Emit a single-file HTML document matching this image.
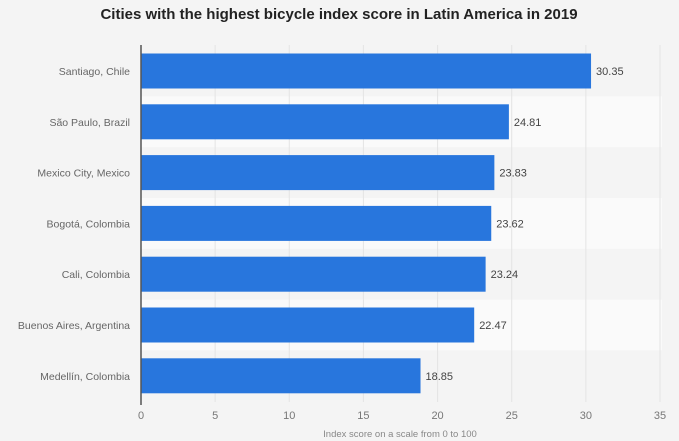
<!DOCTYPE html>
<html><head><meta charset="utf-8"><style>
body{margin:0;background:#f4f4f4;font-family:"Liberation Sans",sans-serif;}
svg{display:block}
</style></head><body>
<svg id="chart" width="679" height="441" xmlns="http://www.w3.org/2000/svg">
<rect width="679" height="441" fill="#f4f4f4"/>
<text x="339" y="19" text-anchor="middle" font-size="15" font-weight="bold" fill="#222">Cities with the highest bicycle index score in Latin America in 2019</text>
<g id="bands"></g><g id="grid"></g><g id="bars"></g><g id="labels"></g>
<line x1="141" x2="141" y1="45" y2="405" stroke="#555" stroke-width="1.5"/>
<text x="400" y="437" text-anchor="middle" font-size="9.5" fill="#888">Index score on a scale from 0 to 100</text>
</svg>
<script>
const categories=["Santiago, Chile","São Paulo, Brazil","Mexico City, Mexico","Bogotá, Colombia","Cali, Colombia","Buenos Aires, Argentina","Medellín, Colombia"];
const values=[30.35,24.81,23.83,23.62,23.24,22.47,18.85];
const valueLabels=["30.35","24.81","23.83","23.62","23.24","22.47","18.85"];
const ticks=[0,5,10,15,20,25,30,35];
const NS="http://www.w3.org/2000/svg";
const x0=141,x1=660,plotTop=45.6,rowH=50.8,barH=35,maxV=35;
const xs=v=>x0+(x1-x0)*v/maxV;
const yc=i=>plotTop+rowH*(i+0.5);
function mk(t,a,p){const e=document.createElementNS(NS,t);for(const k in a)e.setAttribute(k,a[k]);document.getElementById(p).appendChild(e);return e;}
categories.forEach((c,i)=>{
 if(i%2===1){const b=mk('rect',{x:x0,y:plotTop+rowH*i,width:x1-x0+2,height:rowH,fill:'#fafafa'},'bands');
 
 }
});
ticks.forEach(t=>{
 const l=mk('line',{x1:xs(t),x2:xs(t),y1:45,y2:402,stroke:'#e4e4e4','stroke-width':1},'grid');
 
 
 const tx=mk('text',{x:xs(t),y:419,'text-anchor':'middle','font-size':11,fill:'#777'},'labels');
 tx.textContent=t;
 
 
});
categories.forEach((c,i)=>{
 const r=mk('rect',{x:x0,y:yc(i)-barH/2,width:xs(values[i])-x0,height:barH,fill:'#2876dd'},'bars');
 
 
 const cl=mk('text',{x:130,y:yc(i)+4,'text-anchor':'end','font-size':10.5,fill:'#666'},'labels');
 cl.textContent=c;
 
 
 const vl=mk('text',{x:xs(values[i])+5,y:yc(i)+4,'font-size':11,fill:'#444'},'labels');
 vl.textContent=valueLabels[i];
 
 
});
</script>
</body></html>
